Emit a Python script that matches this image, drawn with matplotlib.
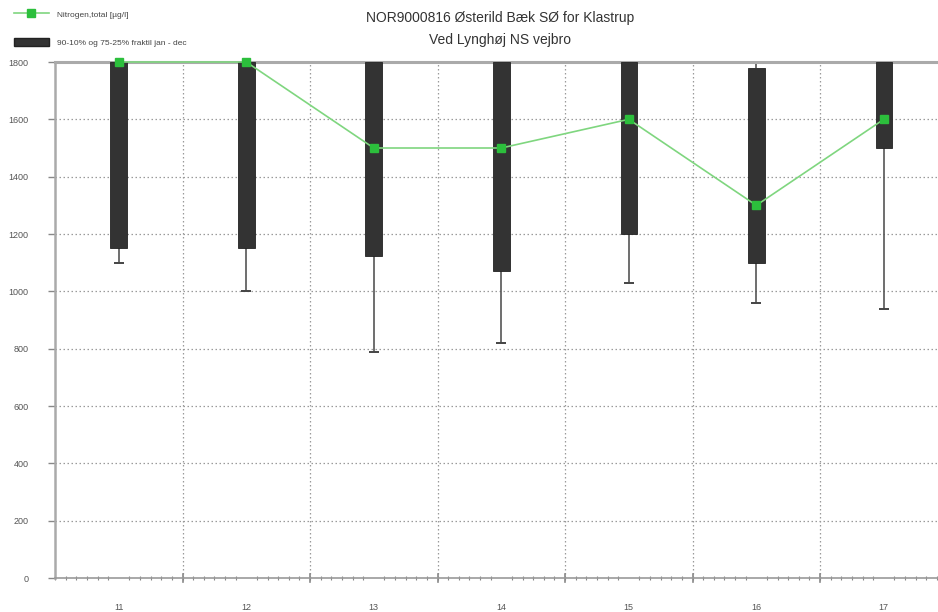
import matplotlib.pyplot as plt
import numpy as np
from matplotlib.lines import Line2D
from matplotlib.patches import Patch
from matplotlib.ticker import FixedLocator

plt.rcParams['font.family'] = ['Liberation Sans', 'DejaVu Sans']

# Months / stations index on x axis
positions = [11, 12, 13, 14, 15, 16, 17]
# Nitrogen, total (µg/l)
nitrogen = [1800, 1800, 1500, 1500, 1600, 1300, 1600]
# fractiles
p10 = [1100, 1000, 790, 820, 1030, 960, 940]
p25 = [1150, 1150, 1125, 1070, 1200, 1100, 1500]
p75 = [1800, 1800, 1800, 1800, 1800, 1780, 1800]
p90 = [1800, 1800, 1800, 1800, 1800, 1800, 1800]

x_labels = [str(p) for p in positions]
y_ticks = [0, 200, 400, 600, 800, 1000, 1200, 1400, 1600, 1800]

fig = plt.figure(figsize=(9.38, 6.12), dpi=100)
ax = fig.add_axes([55 / 938, 1 - 578 / 612, 1 - 55 / 938, (578 - 62) / 612])

grid_col = '#9a9a9a'
box_col = '#333333'
green_line = '#7fd67f'
green_mark = '#2cbf3c'

# grid
for y in y_ticks[1:-1]:
    ax.axhline(y, color=grid_col, lw=0.9, ls=(0, (1.2, 2.0)), zorder=0)
for b in np.arange(11.5, 17.5, 1.0):
    ax.axvline(b, color=grid_col, lw=0.9, ls=(0, (1.2, 2.0)), zorder=0)

# whiskers and boxes
ax.vlines(positions, p10, p25, color='#555555', lw=1.2, zorder=2)
ax.vlines(positions, p75, p90, color='#555555', lw=1.2, zorder=2)
ax.hlines(p10, np.array(positions) - 0.04, np.array(positions) + 0.04,
          color='#444444', lw=1.4, zorder=2)
ax.bar(positions, np.array(p75) - np.array(p25), bottom=p25, width=0.13,
       color=box_col, edgecolor='#222222', lw=0.6, zorder=3)

# nitrogen line
ax.plot(positions, nitrogen, color=green_line, lw=1.2, zorder=4,
        marker='s', markersize=6, markerfacecolor=green_mark,
        markeredgecolor=green_mark, clip_on=False)

ax.set_xlim(10.5, 17.425)
ax.set_ylim(0, 1800)

ax.spines['right'].set_visible(False)
ax.spines['top'].set_color('#aaaaaa')
ax.spines['top'].set_linewidth(2.2)
ax.spines['top'].set_zorder(2.5)
ax.spines['left'].set_color('#aaaaaa')
ax.spines['left'].set_linewidth(1.8)
ax.spines['bottom'].set_color('#999999')
ax.spines['bottom'].set_linewidth(1.2)

ax.set_yticks(y_ticks)
ax.set_yticklabels([str(v) for v in y_ticks], fontsize=6.5, color='#555555')
ax.tick_params(axis='y', length=5, width=1, color='#888888', pad=14)

ax.set_xticks(positions)
ax.set_xticklabels(x_labels, fontsize=6.5, color='#555555')
ax.tick_params(axis='x', which='major', length=0, pad=18)
ax.xaxis.set_minor_locator(FixedLocator(np.arange(10.5, 17.5, 1 / 12)))
ax.tick_params(axis='x', which='minor', length=3, width=0.8, color='#888888',
               direction='inout')

# major ticks at bin boundaries
for b in np.arange(11.5, 17.5, 1.0):
    ax.plot([b, b], [-15, 15], color='#888888', lw=1.2, clip_on=False, zorder=2)

fig.text(500 / 938, 1 - 18 / 612, 'NOR9000816 Østerild Bæk SØ for Klastrup',
         ha='center', va='center', fontsize=10, color='#333333')
fig.text(500 / 938, 1 - 40 / 612, 'Ved Lynghøj NS vejbro',
         ha='center', va='center', fontsize=10, color='#333333')

handles = [
    Line2D([0], [0], color=green_line, lw=1.2, marker='s', markersize=6,
           markerfacecolor=green_mark, markeredgecolor=green_mark),
    Patch(facecolor=box_col, edgecolor='#222222'),
]
fig.legend(handles, ['Nitrogen,total [µg/l]', '90-10% og 75-25% fraktil jan - dec'],
           loc='upper left', bbox_to_anchor=(7 / 938, 1 - 3 / 612),
           frameon=False, fontsize=6, labelcolor='#444444',
           handlelength=4.2, handleheight=1.2, labelspacing=2.3,
           handletextpad=1.0, borderpad=0.3)

fig.savefig('out.png', dpi=100)
